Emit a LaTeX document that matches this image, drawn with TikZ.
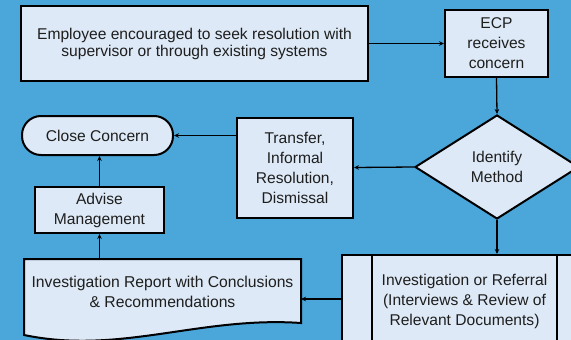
\documentclass[tikz,border=0pt]{standalone}
\usepackage{fontspec}
\setmainfont{Liberation Sans}
\usetikzlibrary{shapes.geometric,arrows.meta}
\definecolor{bg}{HTML}{4BA6DA}
\definecolor{boxfill}{HTML}{DDE9F6}
\definecolor{txt}{HTML}{1E1E1E}
\begin{document}
\begin{tikzpicture}[x=1pt,y=-1pt,
  box/.style={draw=black,line width=2pt,fill=boxfill,inner sep=0pt,align=center,text=txt,font=\fontsize{15.6}{20}\selectfont},
  plain/.style={inner sep=0pt,align=center,text=txt,font=\fontsize{15.7}{20}\selectfont},
  conn/.style={line width=1.3pt,-{Stealth[length=5pt,width=4.5pt]}}]
\useasboundingbox (0,0) rectangle (571,340);
\clip (0,0) rectangle (571,340);
\fill[bg] (0,0) rectangle (571,340);
% boxes
\node[box,minimum width=347pt,minimum height=75pt,font=\fontsize{15.6}{17}\selectfont] (top) at (194.5,43.5) {Employee encouraged to seek resolution with\\supervisor or through existing systems};
\node[box,minimum width=103pt,minimum height=67pt] (ecp) at (496.5,43.5) {ECP\\receives\\concern};
\node[box,diamond,aspect=1.58,minimum width=164pt,minimum height=104pt] (dia) at (497,167) {Identify\\Method};
\node[box,minimum width=116pt,minimum height=100pt] (tr) at (295,167.5) {Transfer,\\Informal\\Resolution,\\Dismissal};
\node[box,rounded corners=19pt,minimum width=151pt,minimum height=39pt] (close) at (97.5,135.5) {Close Concern};
\node[box,minimum width=129pt,minimum height=46pt] (adv) at (99.5,210) {Advise\\Management};
% document shape
\coordinate (rnw) at (24,259);
\coordinate (rne) at (301,259);
\coordinate (rse) at (301,323);
\coordinate (rsw) at (24,335);
\draw[line width=2pt,fill=boxfill] (rnw) -- (rne) -- (rse) .. controls (200,316) and (120,355) .. (rsw) -- cycle;
\node[plain,minimum width=277pt,minimum height=64pt] (rep) at (162.5,292) {Investigation Report with Conclusions\\\& Recommendations};
% predefined process
\node[box,minimum width=245pt,minimum height=92pt] (proc) at (464.5,301) {Investigation or Referral\\(Interviews \& Review of\\Relevant Documents)};
\draw[line width=2pt] ([xshift=31pt]proc.north west) -- ([xshift=31pt]proc.south west);
\draw[line width=2pt] ([xshift=-31pt]proc.north east) -- ([xshift=-31pt]proc.south east);
% connectors
\draw[conn] (top.east) -- (ecp.west);
\draw[conn] (ecp.south) -- (dia.north);
\draw[conn] (dia.west) -- (tr.east);
\draw[conn] (close.east -| tr.west) -- (close.east);
\draw[conn] (adv.north) -- (adv.north |- close.south);
\draw[conn] (rep.north -| adv.north) -- (adv.south);
\draw[conn] (dia.south) -- (dia.south |- proc.north);
\draw[conn] (proc.west |- 0,299) -- (rne |- 0,299);
\end{tikzpicture}
\end{document}
